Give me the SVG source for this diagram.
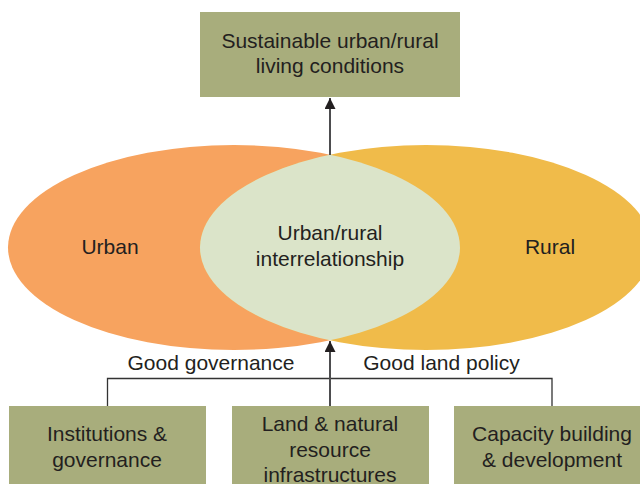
<svg xmlns="http://www.w3.org/2000/svg" width="640" height="484" viewBox="0 0 640 484">
  <style>
    .box { fill: #a8ad7c; }
    .t { font-family: "Liberation Sans", Arial, Helvetica, sans-serif; font-size: 21px; fill: #231f20; text-anchor: middle; }
    .line { fill: none; stroke: #333333; stroke-width: 1.3; }
    .shaft { fill: none; stroke: #4d4d4f; stroke-width: 2; }
  </style>
  <defs>
    <marker id="arrow" markerWidth="13" markerHeight="11" refX="12" refY="6" orient="auto" markerUnits="userSpaceOnUse" viewBox="0 0 13 12">
      <path d="M0,0 L12,6 L0,12 Z" fill="#231f20"/>
    </marker>
    <clipPath id="clipLeft">
      <ellipse cx="234" cy="247.5" rx="226" ry="102.5"/>
    </clipPath>
  </defs>

  <rect width="640" height="484" fill="#ffffff"/>

  <g id="urban">
    <ellipse cx="234" cy="247.5" rx="226" ry="102.5" fill="#f7a35f"/>
    <text class="t" x="110" y="254">Urban</text>
  </g>
  <g id="rural">
    <ellipse cx="426" cy="247.5" rx="226" ry="102.5" fill="#f0bb4a"/>
    <text class="t" x="550" y="254">Rural</text>
  </g>
  <g id="interrelationship">
    <ellipse cx="426" cy="247.5" rx="226" ry="102.5" fill="#dbe4c9" clip-path="url(#clipLeft)"/>
    <text class="t" x="330" y="240">Urban/rural</text>
    <text class="t" x="330" y="266">interrelationship</text>
  </g>

  <g id="sustainable">
    <rect class="box" x="200" y="12" width="260" height="85"/>
    <text class="t" x="330" y="48">Sustainable urban/rural</text>
    <text class="t" x="330" y="73">living conditions</text>
  </g>

  <g id="institutions">
    <rect class="box" x="9" y="406" width="197" height="78"/>
    <text class="t" x="107" y="441">Institutions &amp;</text>
    <text class="t" x="107" y="467">governance</text>
  </g>
  <g id="land">
    <rect class="box" x="232" y="406" width="197" height="78"/>
    <text class="t" x="330" y="431">Land &amp; natural</text>
    <text class="t" x="330" y="456.5">resource</text>
    <text class="t" x="330" y="481.5">infrastructures</text>
  </g>
  <g id="capacity">
    <rect class="box" x="454" y="406" width="186" height="78"/>
    <text class="t" x="552" y="441">Capacity building</text>
    <text class="t" x="552" y="467">&amp; development</text>
  </g>

  <g id="connectors">
    <path class="shaft" d="M330,155 L330,98" marker-end="url(#arrow)"/>
    <path class="line" d="M107.5,406 L107.5,378.5 L552,378.5 L552,406"/>
    <path class="shaft" d="M330,406 L330,341" marker-end="url(#arrow)"/>
    <text class="t" x="211" y="370">Good governance</text>
    <text class="t" x="441.5" y="370">Good land policy</text>
  </g>
</svg>
